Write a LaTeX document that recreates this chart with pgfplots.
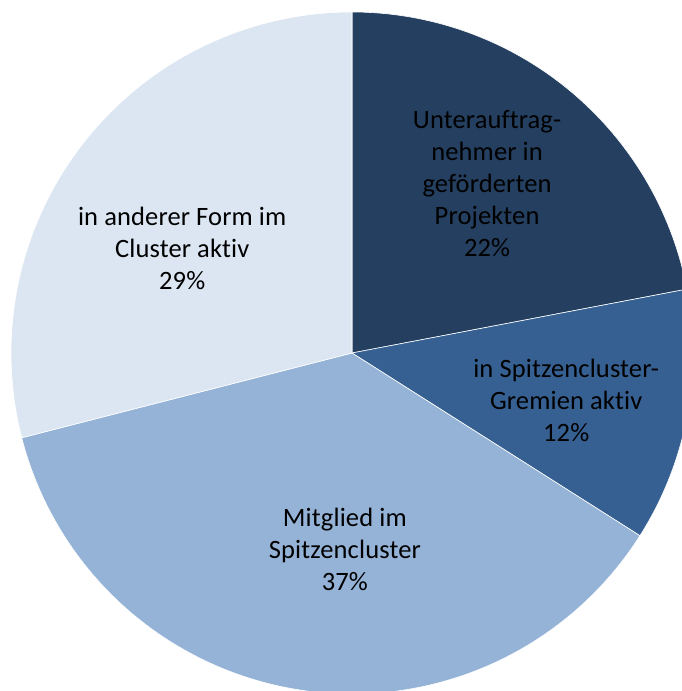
\documentclass[border=0pt]{standalone}
\usepackage{pgfplots}
\pgfplotsset{compat=1.18}
\usepackage{fontspec}
\setmainfont{Carlito}[LetterSpace=0.5, Ligatures={NoCommon}]
\definecolor{cA}{RGB}{36,63,96}
\definecolor{cB}{RGB}{54,96,146}
\definecolor{cC}{RGB}{149,179,215}
\definecolor{cD}{RGB}{220,230,242}
% shares in percent, clockwise from 12 o'clock
\pgfmathsetmacro{\vA}{22}
\pgfmathsetmacro{\vB}{12}
\pgfmathsetmacro{\vC}{37}
\pgfmathsetmacro{\vD}{29}
\pgfmathsetmacro{\aA}{90}
\pgfmathsetmacro{\aB}{\aA-3.6*\vA}
\pgfmathsetmacro{\aC}{\aB-3.6*\vB}
\pgfmathsetmacro{\aD}{\aC-3.6*\vC}
\pgfmathsetmacro{\aE}{\aD-3.6*\vD}
\begin{document}
\begin{tikzpicture}
\begin{axis}[scale only axis, width=682pt, height=691pt,
  xmin=-1.0323, xmax=0.9677, ymin=-0.9912, ymax=1.0352,
  hide axis, clip=true]
\addplot[fill=cA, draw=white, line width=0.6pt, domain=\aB:\aA, samples=120] ({cos(x)},{sin(x)}) -- (axis cs:0,0) -- cycle;
\addplot[fill=cB, draw=white, line width=0.6pt, domain=\aC:\aB, samples=80] ({cos(x)},{sin(x)}) -- (axis cs:0,0) -- cycle;
\addplot[fill=cC, draw=white, line width=0.6pt, domain=\aD:\aC, samples=160] ({cos(x)},{sin(x)}) -- (axis cs:0,0) -- cycle;
\addplot[fill=cD, draw=white, line width=0.6pt, domain=\aE:\aD, samples=120] ({cos(x)},{sin(x)}) -- (axis cs:0,0) -- cycle;
\begin{scope}[every node/.style={align=center, font=\fontsize{26.5}{32}\selectfont, text=black}]
\node at (axis cs:0.396,0.496) {Unterauftrag-\\nehmer in\\geförderten\\Projekten\\22\%};
\node at (axis cs:0.628,-0.138) {in Spitzencluster-\\Gremien aktiv\\12\%};
\node at (axis cs:-0.021,-0.575) {Mitglied im\\Spitzencluster\\37\%};
\node at (axis cs:-0.498,0.308) {in anderer Form im\\Cluster aktiv\\29\%};
\end{scope}
\end{axis}
\pgfresetboundingbox
\useasboundingbox (current axis.south west) rectangle (current axis.north east);
\end{tikzpicture}
\end{document}
